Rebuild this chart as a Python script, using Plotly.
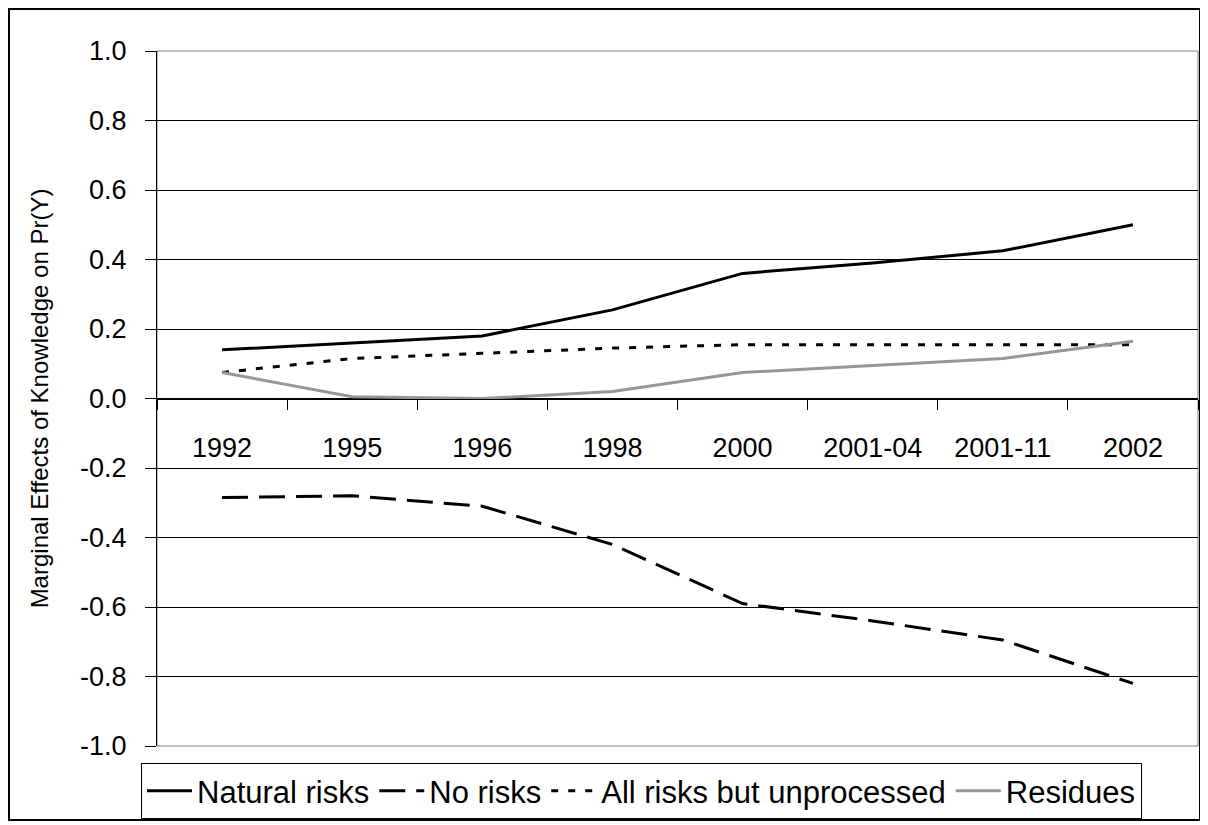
import plotly.graph_objects as go

categories = ["1992", "1995", "1996", "1998", "2000", "2001-04", "2001-11", "2002"]
natural_risks = [0.14, 0.16, 0.18, 0.255, 0.36, 0.39, 0.425, 0.50]
no_risks = [-0.285, -0.28, -0.31, -0.42, -0.59, -0.64, -0.695, -0.82]
all_risks_unprocessed = [0.075, 0.115, 0.13, 0.145, 0.155, 0.155, 0.155, 0.155]
residues = [0.075, 0.005, 0.0, 0.02, 0.075, 0.095, 0.115, 0.165]
y_ticks = [-1.0, -0.8, -0.6, -0.4, -0.2, 0.0, 0.2, 0.4, 0.6, 0.8, 1.0]

FONT = "Liberation Sans, Arial, sans-serif"

fig = go.Figure()
fig.add_trace(go.Scatter(x=categories, y=natural_risks, name="Natural risks", mode="lines",
                         line=dict(color="black", width=3)))
fig.add_trace(go.Scatter(x=categories, y=no_risks, name="No risks", mode="lines",
                         line=dict(color="black", width=3, dash="26px,11px")))
fig.add_trace(go.Scatter(x=categories, y=all_risks_unprocessed, name="All risks but unprocessed", mode="lines",
                         line=dict(color="black", width=3, dash="7px,10px")))
fig.add_trace(go.Scatter(x=categories, y=residues, name="Residues", mode="lines",
                         line=dict(color="#969696", width=3)))

# page offset of 8px (body margin) is compensated here
OFF = 8
W, H = 1208 - OFF, 825 - OFF
L = 157 - OFF
T = 51 - OFF
R = 1208 - 1198
B = 825 - 746
pw = W - L - R
ph = H - T - B

def px_to_paper_x(px):
    return (px - OFF - L) / pw

def px_to_paper_y(py):
    return (H - B - (py - OFF)) / ph

fig.update_layout(
    width=W, height=H,
    margin=dict(l=L, r=R, t=T, b=B, autoexpand=False),
    paper_bgcolor="white", plot_bgcolor="white",
    font=dict(family=FONT, color="black", size=27),
    showlegend=True,
    legend=dict(orientation="h", x=0.5 * (px_to_paper_x(126) + px_to_paper_x(1157)), xanchor="center",
                y=px_to_paper_y(763), yanchor="top",
                bordercolor="black", borderwidth=1, bgcolor="white",
                font=dict(size=31, family=FONT), itemwidth=45,
                tracegroupgap=0),
    xaxis=dict(type="category", range=[-0.5, 7.5], anchor="free", position=0.5,
               showgrid=False, showline=True, linecolor="black", linewidth=1,
               ticks="outside", ticklen=10, tickcolor="black", tickson="boundaries",
               ticklabelstandoff=25, tickfont=dict(size=27), fixedrange=True, zeroline=False),
    yaxis=dict(range=[-1.0, 1.0], tickvals=y_ticks, ticktext=[f"{v:.1f}" for v in y_ticks],
               showgrid=True, gridcolor="black", gridwidth=1, zeroline=False,
               showline=True, linecolor="black", linewidth=1,
               ticks="outside", ticklen=11, tickcolor="black",
               tickfont=dict(size=27), ticklabelstandoff=13,
               title=dict(text="Marginal Effects of Knowledge on Pr(Y)", font=dict(size=24), standoff=24),
               automargin=False),
    shapes=[
        dict(type="rect", xref="paper", yref="paper", x0=0, x1=1, y0=0, y1=1,
             line=dict(color="#808080", width=1), layer="below"),
        dict(type="rect", xref="paper", yref="paper",
             x0=px_to_paper_x(9), x1=px_to_paper_x(1200),
             y0=px_to_paper_y(820), y1=px_to_paper_y(9),
             line=dict(color="black", width=2)),
    ],
)

fig.write_html("out.html")
